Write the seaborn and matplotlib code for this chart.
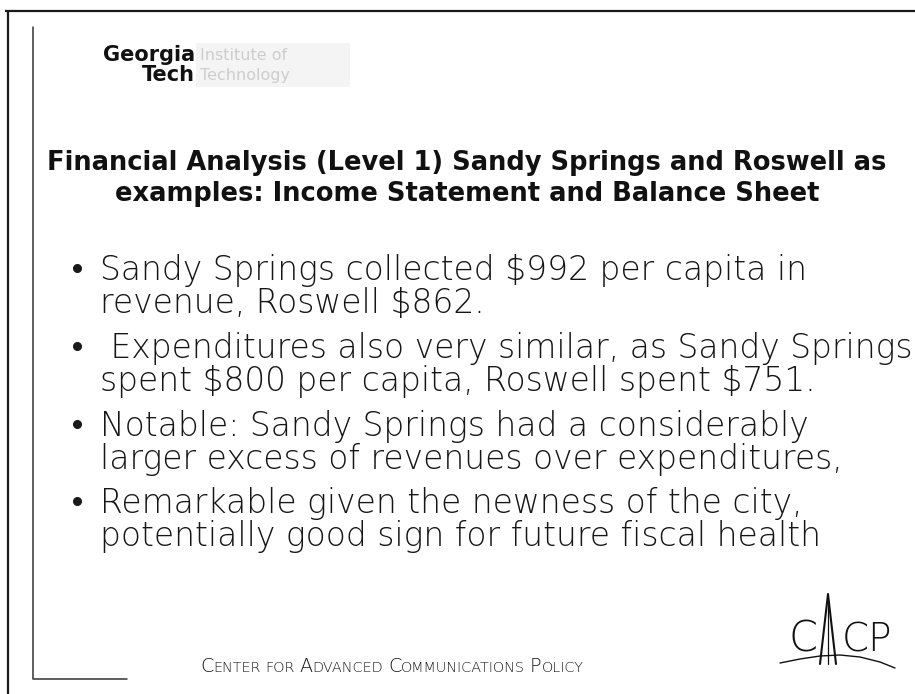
import matplotlib
matplotlib.use("Agg")
import matplotlib.pyplot as plt
import seaborn as sns

sns.set_theme(style="white")
plt.rcParams["font.family"] = ["DejaVu Sans"]

# slide content
title_lines = [
    "Financial Analysis (Level 1) Sandy Springs and Roswell as",
    "examples: Income Statement and Balance Sheet",
]
bullets = [
    ["Sandy Springs collected $992 per capita in", "revenue, Roswell $862."],
    [" Expenditures also very similar, as Sandy Springs", "spent $800 per capita, Roswell spent $751."],
    ["Notable: Sandy Springs had a considerably", "larger excess of revenues over expenditures,"],
    ["Remarkable given the newness of the city,", "potentially good sign for future fiscal health"],
]
bullet_baselines = [280, 358, 436, 513]
footer = "Center for Advanced Communications Policy"
logo_words = ["Georgia", "Tech"]
logo_grey = ["Institute of", "Technology"]

W, H = 915, 694
fig = plt.figure(figsize=(W / 100, H / 100), dpi=100)
ax = fig.add_axes([0, 0, 1, 1])
ax.set_xlim(0, W)
ax.set_ylim(H, 0)
ax.axis("off")
renderer = fig.canvas.get_renderer()


def fit_text(x, y, s, width, size=12, **kw):
    """Place text and scale its font so it spans `width` pixels."""
    t = ax.text(x, y, s, fontsize=size, parse_math=False, **kw)
    w = t.get_window_extent(renderer).width
    t.set_fontsize(size * width / w)
    return t


def small_caps(x0, y, s, width, big=12, small=9, **kw):
    pieces = []
    for k, word in enumerate(s.split()):
        if word.lower() == "for":
            pieces.append([word.upper(), small, k])
        else:
            pieces.append([word[0].upper(), big, k])
            pieces.append([word[1:].upper(), small, k])

    def layout(scale):
        x = x0
        last = 0
        out = []
        for txt, f, k in pieces:
            if k != last:
                x += 0.45 * small * scale
                last = k
            t = ax.text(x, y, txt, fontsize=f * scale, va="baseline", parse_math=False, **kw)
            x += t.get_window_extent(renderer).width
            out.append(t)
        return x - x0, out

    total, texts = layout(1.0)
    for t in texts:
        t.remove()
    layout(width / total)


# frame lines
ax.plot([5, W], [11, 11], color="#1a1a1a", lw=1.6, solid_capstyle="butt")
ax.plot([8, 8], [11, H], color="#1a1a1a", lw=1.6, solid_capstyle="butt")
ax.plot([33, 33, 127], [27, 679, 679], color="#333333", lw=1.1)

# Georgia Tech logo
ax.add_patch(plt.Rectangle((196, 43), 154, 44, color="#f4f4f4", lw=0, zorder=0))
ax.text(195, 61, logo_words[0], fontsize=15, fontweight="bold", ha="right",
        va="baseline", color="#111111")
ax.text(195, 81, logo_words[1], fontsize=15, fontweight="bold", ha="right",
        va="baseline", color="#111111")
ax.text(200, 60, logo_grey[0], fontsize=11.5, va="baseline", color="#cdcdcd")
ax.text(200, 80, logo_grey[1], fontsize=11.5, va="baseline", color="#cdcdcd")

# title
t1 = fit_text(467, 170, title_lines[0], 835, fontweight="bold", ha="center",
              va="baseline", color="#111111")
ax.text(467, 201, title_lines[1], fontsize=t1.get_fontsize(), fontweight="bold",
        ha="center", va="baseline", color="#111111")

# bullets: font sized so the widest line ends where the reference's does
probe = fit_text(100, -100, bullets[1][0], 808, fontweight=200)
body_size = probe.get_fontsize()
probe.remove()
for b, lines in zip(bullet_baselines, bullets):
    ax.plot([77], [b - 12], "o", ms=5.5, color="#1a1a1a")
    for j, line in enumerate(lines):
        ax.text(100, b + 33 * j, line, fontsize=body_size, va="baseline",
                color="#161616", fontweight=200, parse_math=False)

# footer
small_caps(200, 672, footer, 382, color="#161616", fontweight=200)

# CACP logo
fit_text(788, 652, "C", 29, va="baseline", color="#111111", fontweight=200)
fit_text(842, 652, "CP", 50, va="baseline", color="#111111", fontweight=200)
ax.plot([820, 828, 836], [664, 594, 664], color="#111111", lw=1.5)
ax.plot([828, 828], [600, 664], color="#111111", lw=0.9)
ax.plot([780, 800, 820, 840, 860, 880, 895], [663, 659, 656, 655, 657, 662, 668],
        color="#111111", lw=1.0)

fig.savefig("out.png", dpi=100, facecolor="white")
